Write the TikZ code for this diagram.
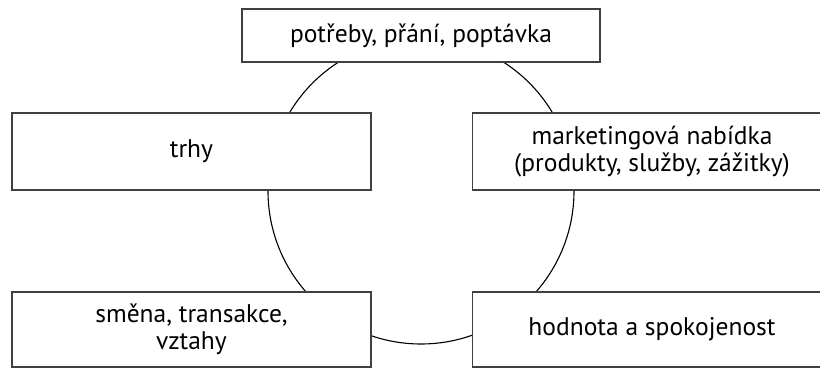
\documentclass[tikz,border=0pt]{standalone}
\usepackage{fontspec}
\setmainfont{PT Sans}
\tikzset{
  box/.style = {draw = black!75, line width = 1.6pt, fill = white,
    minimum width = 359pt, minimum height = 77pt, inner sep = 0pt,
    align = center, font = \fontsize{25.5}{27}\selectfont}
}
\begin{document}
\begin{tikzpicture}[x = 1pt, y = 1pt]
      \useasboundingbox (0, 0) rectangle (820, 369);
      \draw [line width = 1.1pt] (421, 178) circle [radius = 153];
      \node [box, minimum width = 358pt, minimum height = 53pt] (needs) at (421, 333.5) {potřeby, přání, poptávka};
      \node [box] (markets) at (191.5, 217.5) {trhy};
      \node [box] (offer) at (652, 217.5) {marketingová nabídka\\(produkty, služby, zážitky)};
      \node [box, minimum height = 75pt] (exchange) at (191.5, 39.5) {směna, transakce,\\vztahy};
      \node [box, minimum height = 75pt] (value) at (652, 39.5) {hodnota a spokojenost};
    \end{tikzpicture}
\end{document}
